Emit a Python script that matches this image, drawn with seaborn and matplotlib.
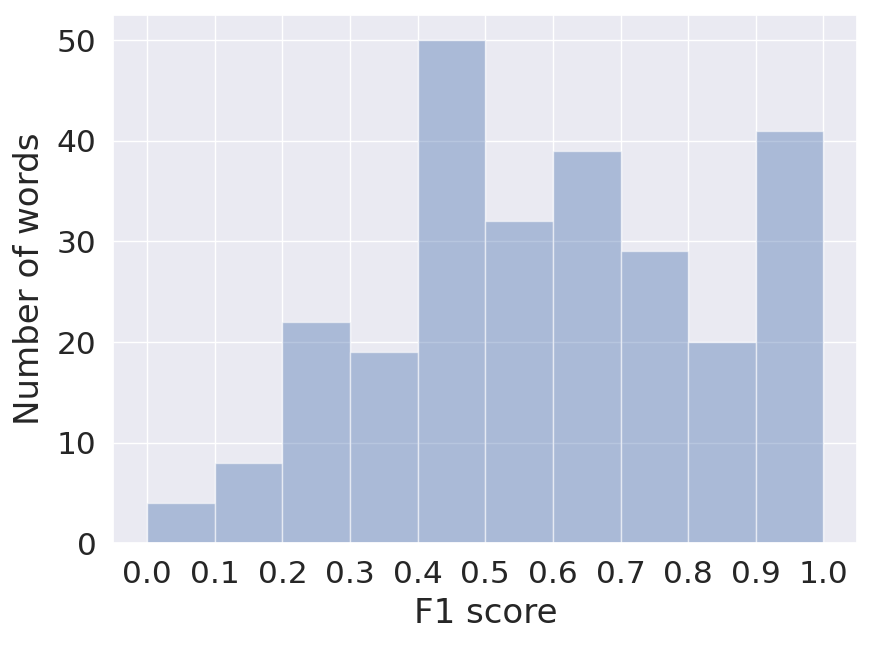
import matplotlib
matplotlib.use("Agg")
import matplotlib.pyplot as plt
import numpy as np
import pandas as pd
import seaborn as sns

# ---- data ----
bin_edges = [0.0, 0.1, 0.2, 0.3, 0.4, 0.5, 0.6, 0.7, 0.8, 0.9, 1.0]
word_counts = [4, 8, 22, 19, 50, 32, 39, 29, 20, 41]
x_ticks = [0.0, 0.1, 0.2, 0.3, 0.4, 0.5, 0.6, 0.7, 0.8, 0.9, 1.0]
y_ticks = [0, 10, 20, 30, 40, 50]

bin_centers = [(a + b) / 2 for a, b in zip(bin_edges[:-1], bin_edges[1:])]
df = pd.DataFrame({"f1": bin_centers, "count": word_counts})

sns.set_theme(style="darkgrid")

fig, ax = plt.subplots(figsize=(8.72, 6.47), dpi=100)
sns.histplot(
    data=df, x="f1", weights="count", bins=bin_edges,
    color="#4c72b0", alpha=0.4, edgecolor=(1, 1, 1, 0.5), linewidth=1.0, ax=ax,
)

ax.set_xlim(-0.05, 1.05)
ax.set_ylim(0, 52.5)
ax.set_xticks(x_ticks)
ax.set_xticklabels([f"{t:.1f}" for t in x_ticks])
ax.set_yticks(y_ticks)
ax.tick_params(labelsize=22.5, pad=6)
ax.set_xlabel("F1 score", fontsize=24.5, labelpad=6)
ax.set_ylabel("Number of words", fontsize=24.5, labelpad=8)

fig.subplots_adjust(left=0.13, right=0.983, top=0.977, bottom=0.16)
fig.savefig("out.png", dpi=100)
